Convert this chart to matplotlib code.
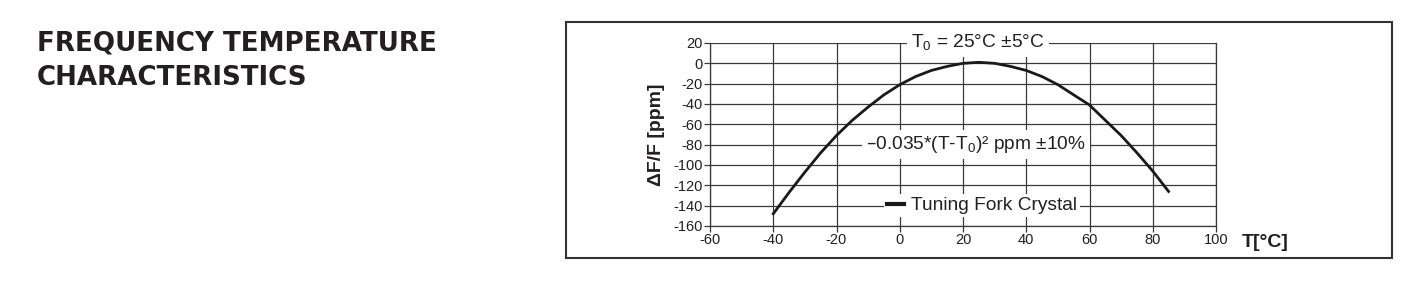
import matplotlib
matplotlib.use("Agg")
import matplotlib.pyplot as plt
from matplotlib.patches import Rectangle

plt.rcParams['font.family'] = ['Liberation Sans', 'DejaVu Sans']
plt.rcParams['axes.unicode_minus'] = False

# Data
temps = [-40, -35, -30, -25, -20, -15, -10, -5, 0, 5, 10, 15, 20, 25, 30, 35, 40, 45, 50, 55, 60, 65, 70, 75, 80, 85]
dfdf = [-148, -127, -107, -88, -71, -56, -43, -31, -21, -13, -7, -3, 0, 1, 0, -3, -7, -13, -21, -31, -41, -56, -71, -88, -106, -126]
xticks = [-60, -40, -20, 0, 20, 40, 60, 80, 100]
yticks = [20, 0, -20, -40, -60, -80, -100, -120, -140, -160]
series_name = "Tuning Fork Crystal"

W, H = 1427, 287
fig = plt.figure(figsize=(W / 100, H / 100), dpi=100)

# Title
for txt, y in (("FREQUENCY TEMPERATURE", 43), ("CHARACTERISTICS", 78)):
    fig.text(37 / W, 1 - y / H, txt, fontsize=18.8, fontweight='bold',
             family='DejaVu Sans', color='#231f20', va='center', ha='left')

# Outer frame
fig.patches.append(Rectangle((566 / W, 1 - 258 / H), (1392 - 566) / W, (258 - 22) / H,
                             transform=fig.transFigure, fill=False, edgecolor='#333333',
                             linewidth=1.5))

ax = fig.add_axes([710 / W, 1 - 226 / H, (1216 - 710) / W, (226 - 43) / H])
ax.plot(temps, dfdf, color='#1a1a1a', linewidth=2.0, label=series_name, zorder=3,
        solid_joinstyle='round')
ax.set_xlim(-60, 100)
ax.set_ylim(-160, 20)
ax.set_xticks(xticks)
ax.set_yticks(yticks)
ax.grid(True, color='#3a3a3a', linewidth=0.9)
ax.set_axisbelow(True)
for s in ax.spines.values():
    s.set_color('#3a3a3a')
    s.set_linewidth(0.9)
ax.spines['top'].set_visible(False)
ax.tick_params(axis='both', labelsize=10.5, length=4, width=0.9, color='#3a3a3a',
               labelcolor='#231f20', pad=1)

ax.set_ylabel("ΔF/F [ppm]", fontsize=14, fontweight='bold', color='#231f20', labelpad=6)
ax.text(1.05, -0.09, "T[°C]", transform=ax.transAxes, fontsize=14, fontweight='bold',
        color='#231f20', ha='left', va='center')

bb = dict(facecolor='white', edgecolor='none', pad=3)
ax.text(24.6, 20, r"T$_\mathregular{0}$ = 25°C ±5°C", fontsize=13.8, color='#231f20',
        ha='center', va='center', bbox=bb, zorder=4)
ax.text(24.2, -80, r"–0.035*(T-T$_\mathregular{0}$)² ppm ±10%", fontsize=13.8,
        color='#231f20', ha='center', va='center', bbox=bb, zorder=4)

leg = ax.legend(loc='center', bbox_to_anchor=(0.5375, 0.111), frameon=True,
                fancybox=False, handlelength=0.9, handletextpad=0.4, fontsize=13.8,
                borderpad=0.15, borderaxespad=0)
leg.get_frame().set_edgecolor('none')
leg.get_frame().set_facecolor('white')
leg.get_frame().set_alpha(1)
for t in leg.get_texts():
    t.set_color('#231f20')
for l in leg.get_lines():
    l.set_linewidth(3)

fig.savefig("out.png", dpi=100)
